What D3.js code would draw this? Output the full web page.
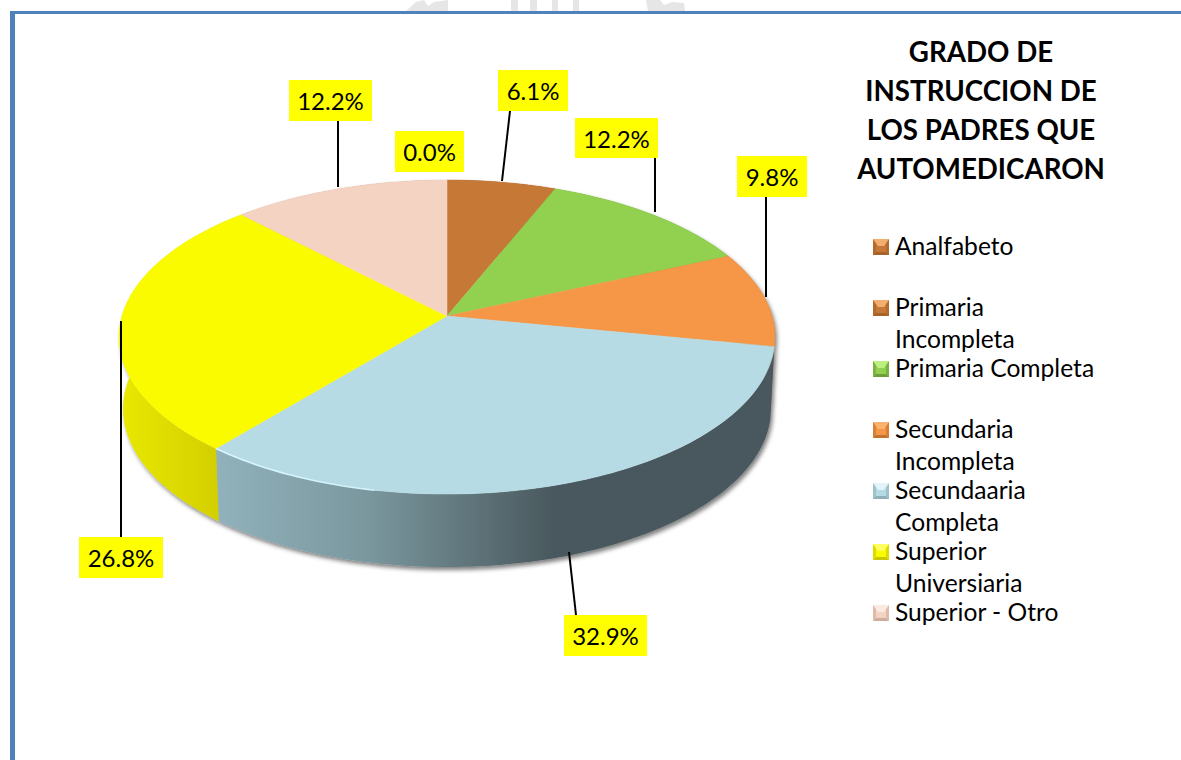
<!DOCTYPE html>
<html><head><meta charset="utf-8">
<style>html,body{margin:0;padding:0;background:#fff;overflow:hidden}svg{display:block}text{font-family:Lato,"Open Sans",sans-serif;fill:#000}</style>
<script src="https://cdn.jsdelivr.net/npm/d3@7/dist/d3.min.js"></script>
</head><body>
<svg id="chart" width="1181" height="760"></svg>
<script>
// ---------- data ----------
const categories = ["Analfabeto","Primaria Incompleta","Primaria Completa","Secundaria Incompleta","Secundaaria Completa","Superior Universiaria","Superior - Otro"];
const values = [0.0,6.1,12.2,9.8,32.9,26.8,12.2];
const legendLines = [["Analfabeto"],["Primaria","Incompleta"],["Primaria Completa"],["Secundaria","Incompleta"],["Secundaaria","Completa"],["Superior","Universiaria"],["Superior - Otro"]];
const titleLines = ["GRADO DE","INSTRUCCION DE","LOS PADRES QUE","AUTOMEDICARON"];
// ---------- style & layout ----------
const topColors = ["#C67937","#C67937","#92D050","#F59746","#B7DBE5","#FBFB00","#F5D3C2"];
const sideColors = ["#8a5426","#8a5426","#66913a","#a5642c",null,null,"#b09888"];
const markerLight = ["#F2AE70","#F2AE70","#BDF07E","#FBB470","#E2F4F9","#FFFF60","#FBEAE0"];
const markerDark = ["#A8632A","#A8632A","#6E9E3C","#C4722F","#8FB0B9","#C8C800","#CDAE9E"];
const labelBoxes = [[395,131,69,41],[498,70,70,41],[575,118,83,40],[737,156,70,41],[564,615,83,41],[79,537,84,41],[289,80,83,41]];
const leaders = [null,[510,111,502,181],[655,158,655,212],[766,197,766,297],[576,615,569,552],[121,537,121,321],[338,121,338,187]];
const apex = {x:447,y:316}, persp = 0.134, scaleX = 325, scaleY = 154.2, depthFront = 73, depthBack = 70;

const svg = d3.select("#chart");
const defs = svg.append("defs");
const shadow = defs.append("filter").attr("id","shadow").attr("x","-5%").attr("y","-5%").attr("width","110%").attr("height","115%");
shadow.append("feDropShadow").attr("dx",2).attr("dy",3).attr("stdDeviation",2).attr("flood-color","#000").attr("flood-opacity",.5);
const soft = defs.append("filter").attr("id","soft");
soft.append("feGaussianBlur").attr("stdDeviation",.7);

function hGrad(id,x1,x2,stops){
  const g = defs.append("linearGradient").attr("id",id).attr("gradientUnits","userSpaceOnUse").attr("x1",x1).attr("x2",x2).attr("y1",0).attr("y2",0);
  stops.forEach(s=>g.append("stop").attr("offset",s[0]).attr("stop-color",s[1]).attr("stop-opacity",s[2]===undefined?1:s[2]));
}
hGrad("blueSide",220,552,[[0,"#90B1BB"],[.45,"#7A979E"],[1,"#4A595E"]]);
hGrad("yellowSide",122,222,[[0,"#E8E800"],[1,"#D2CE00"]]);
hGrad("rimGlow",218,560,[[0,"#D8F6FF",1],[.6,"#D8F6FF",.8],[1,"#D8F6FF",0]]);

// decorative fragment of the page watermark above the frame
const wm = svg.append("g").attr("fill","#E6E6E6");
wm.append("path").attr("d","M406 11L416 2L424 0L428 6L434 2L448 0L448 11Z");
[[511,7],[530,7],[552,6],[573,6]].forEach(d=>wm.append("rect").attr("x",d[0]).attr("y",0).attr("width",d[1]).attr("height",11));
wm.append("path").attr("d","M646 0L660 0L664 5L672 2L684 3L685 11L648 11Z");

// frame
svg.append("rect").attr("x",10).attr("y",11).attr("width",1171).attr("height",3).attr("fill","#4F81BD");
svg.append("rect").attr("x",10).attr("y",11).attr("width",5).attr("height",749).attr("fill","#4F81BD");

// perspective projection of the pie disc
function project(a,z){
  const x = Math.sin(a), y = -Math.cos(a), w = 1 - persp*y;
  const depth = z ? depthBack + (depthFront-depthBack)*(y+1)/2 : 0;
  return [apex.x + (z?0.988:1)*scaleX*x/w, apex.y + scaleY*y/w + depth];
}
const pie = d3.pie().sort(null).value(d=>d);
const arcs = pie(values);
const line = d3.line();
function rim(a0,a1,z){
  const n = Math.max(2,Math.ceil((a1-a0)/0.02));
  return d3.range(n+1).map(i=>project(a0+(a1-a0)*i/n,z));
}

// sides
const sides = svg.append("g").attr("filter","url(#shadow)");
const sideFill = i => i===4 ? "url(#blueSide)" : i===5 ? "url(#yellowSide)" : sideColors[i];
sides.selectAll("path").data(arcs.filter(d=>d.value>0)).join("path")
  .attr("d",d=>line(rim(d.startAngle,d.endAngle,false).concat(rim(d.startAngle,d.endAngle,true).reverse()))+"Z")
  .attr("fill",d=>sideFill(d.index));

// top
svg.append("g").selectAll("path").data(arcs.filter(d=>d.value>0)).join("path")
  .attr("d",d=>line([[apex.x,apex.y]].concat(rim(d.startAngle,d.endAngle,false)))+"Z")
  .attr("fill",d=>topColors[d.index])
  .attr("stroke",d=>topColors[d.index]).attr("stroke-width",.5);

// bevel highlight along the front rim of the largest slice
svg.append("path").attr("d",line(rim(arcs[4].startAngle+Math.PI/2,arcs[4].endAngle,false).reverse()))
  .attr("fill","none").attr("stroke","url(#rimGlow)").attr("stroke-width",1.6).attr("filter","url(#soft)");

// leaders
svg.append("g").selectAll("line").data(leaders.filter(Boolean)).join("line")
  .attr("x1",d=>d[0]).attr("y1",d=>d[1]).attr("x2",d=>d[2]).attr("y2",d=>d[3])
  .attr("stroke","#000").attr("stroke-width",2);

// data labels
const lab = svg.append("g").selectAll("g").data(values).join("g");
lab.append("rect").attr("x",(d,i)=>labelBoxes[i][0]).attr("y",(d,i)=>labelBoxes[i][1])
  .attr("width",(d,i)=>labelBoxes[i][2]).attr("height",(d,i)=>labelBoxes[i][3]).attr("fill","#FFFF00");
lab.append("text").attr("x",(d,i)=>labelBoxes[i][0]+labelBoxes[i][2]/2).attr("y",(d,i)=>labelBoxes[i][1]+30)
  .attr("text-anchor","middle").style("font-size","24px").text(d=>d3.format(".1f")(d)+"%");

// title
svg.append("g").selectAll("text").data(titleLines).join("text")
  .attr("x",981).attr("y",(d,i)=>62+i*39).attr("text-anchor","middle")
  .style("font-size","27.7px").style("font-weight","700").text(d=>d);

// legend
const rowY = d3.scaleLinear().domain([0,6]).range([247,613]);
const leg = svg.append("g").selectAll("g").data(categories).join("g")
  .attr("transform",(d,i)=>`translate(873,${rowY(i)})`);
const s = 8;
leg.append("rect").attr("x",-s).attr("y",-s).attr("width",2*s).attr("height",2*s).attr("transform","translate(8,0)").attr("fill",(d,i)=>topColors[i]);
leg.append("path").attr("transform","translate(8,0)").attr("d",`M${-s} ${-s}L${-s+3} ${-s+3}V${s-3}L${-s} ${s}Z M${s} ${-s}L${s-3} ${-s+3}V${s-3}L${s} ${s}Z`).attr("fill",(d,i)=>markerDark[i]).attr("opacity",.6);
leg.append("path").attr("transform","translate(8,0)").attr("d",`M${-s} ${s}H${s}L${s-3} ${s-3}H${-s+3}Z`).attr("fill",(d,i)=>markerDark[i]);
leg.append("path").attr("transform","translate(8,0)").attr("d",`M${-s} ${-s}H${s}L${s-5} ${-s+7}H${-s+5}Z`).attr("fill",(d,i)=>markerLight[i]);
leg.each(function(d,i){
  d3.select(this).selectAll("text").data(legendLines[i]).join("text")
    .attr("x",22).attr("y",(t,j)=>8+j*32).style("font-size","24.6px").text(t=>t);
});
</script>
</body></html>
